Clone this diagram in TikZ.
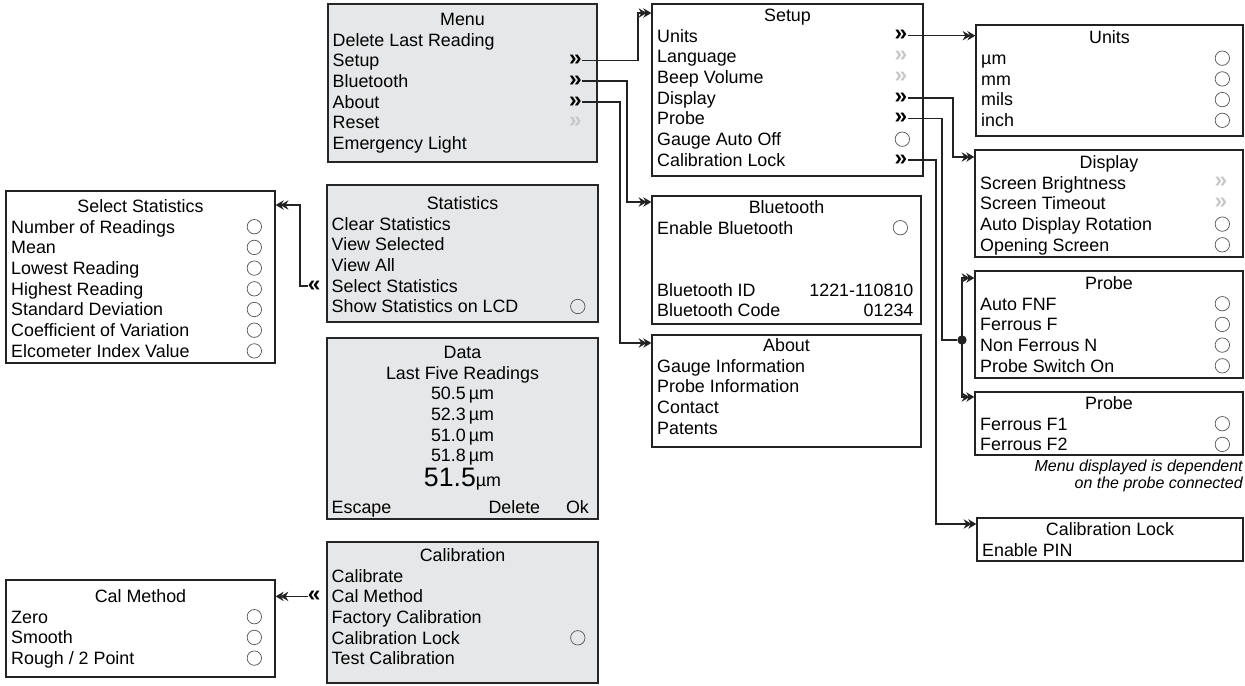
\documentclass[tikz,border=0pt]{standalone}
\usepackage{fontspec}
\setmainfont{Liberation Sans}
\usepackage{tikz}
\usetikzlibrary{arrows.meta,positioning,fit}

\definecolor{lcdfill}{HTML}{E6E7E8}
\definecolor{inkgray}{HTML}{222222}
\definecolor{fadegray}{HTML}{C8C8C8}

\newcommand{\rowfont}{\fontsize{13.4}{15.5}\selectfont}
\newcommand{\chevfont}{\fontsize{17}{17}\selectfont\bfseries}
\newcommand{\optcirclemark}{}
\newcommand{\moremark}{»}
\newcommand{\moredimmark}{»}
\newcommand{\nomarkmark}{}

% panel: [style]{name}{corner}{corner}{title y}{title}
\newcommand{\panel}[6][screen]{%
  \node[#1, fit={(#3) (#4)}] (#2) {};
  \node[rowtitle] (#2-0) at (#2.north |- 0,#5) {#6};
}
% rows under the title: {name}{title y}{text/mark,...}
\newcommand{\panelrows}[3]{%
  \foreach \txt/\mk [count=\i] in {#3} {%
    \pgfmathsetmacro{\rowy}{#2+20.7*\i}%
    \node[rowtext] (#1-\i) at (#1.west |- 0,\rowy) {\txt};
    \node[\mk] (#1-m\i) at (#1.east |- 0,\rowy) {\csname\mk mark\endcsname};
  }%
}

\begin{document}
\begin{tikzpicture}[x=0.75pt,y=-0.75pt,
  screen/.style={draw=inkgray, line width=1pt, fill=white, inner sep=0pt},
  lcd/.style={screen, fill=lcdfill, draw=black!85, line width=1.7pt},
  rowtitle/.style={inner sep=0pt, text height=9.5pt, text depth=0pt, font=\rowfont},
  rowtext/.style={rowtitle, anchor=west, xshift=4.2pt},
  optcircle/.style={circle, draw=black!65, line width=0.55pt, minimum size=10.8pt, inner sep=0pt, xshift=-16pt},
  more/.style={inner sep=0pt, font=\chevfont, text=black, xshift=-17pt},
  moredim/.style={more, text=fadegray},
  nomark/.style={inner sep=0pt, xshift=-16pt},
  back/.style={inner sep=0pt, font=\chevfont},
  wire/.style={draw=inkgray, line width=1.1pt},
  link/.style={wire, -{Stealth[length=6pt,width=7pt,sep=-2.5pt]Stealth[length=6pt,width=7pt]}},
  jct/.style={circle, fill=inkgray, inner sep=0pt, minimum size=7pt},
  note/.style={inner sep=0pt, align=right, font=\fontsize{12}{12.75}\selectfont\itshape}]
  \useasboundingbox (0,0) rectangle (1245,685);

  \panel[lcd]{menu}{328,4}{597,162}{19}{Menu}
  \panelrows{menu}{19}{Delete Last Reading/nomark, Setup/more, Bluetooth/more, About/more, Reset/moredim, Emergency Light/nomark}

  \panel[lcd]{stats}{327,185}{598,322}{203}{Statistics}
  \panelrows{stats}{203}{Clear Statistics/nomark, View Selected/nomark, View All/nomark, Select Statistics/nomark, Show Statistics on LCD/optcircle}

  \panel[lcd]{data}{327,338}{598,519}{352}{Data}
  \node[rowtitle] (data-1) at (data.north |- 0,372.7) {Last Five Readings};
  \foreach \val [count=\i from 2] in {50.5, 52.3, 51.0, 51.8} {
    \pgfmathsetmacro{\rowy}{352+20.7*\i}
    \node[rowtitle] (data-\i) at (data.north |- 0,\rowy) {\val\,µm};
  }
  \node[inner sep=0pt, anchor=base] (data-6) at (data.north |- 0,486) {\fontsize{20}{22}\selectfont 51.5\rowfont µm};
  \node[rowtext] (data-esc) at (data.west |- 0,507) {Escape};
  \node[rowtitle, anchor=east, xshift=-7.5pt] (data-ok) at (data.east |- 0,507) {Ok};
  \node[rowtitle, left=19pt of data-ok] (data-del) {Delete};

  \panel[lcd]{calib}{327,542}{598,683}{555}{Calibration}
  \panelrows{calib}{555}{Calibrate/nomark, Cal Method/nomark, Factory Calibration/nomark, Calibration Lock/optcircle, Test Calibration/nomark}

  \panel{selstat}{6,191}{275,363}{206}{Select Statistics}
  \panelrows{selstat}{206}{Number of Readings/optcircle, Mean/optcircle, Lowest Reading/optcircle, Highest Reading/optcircle, Standard Deviation/optcircle, Coefficient of Variation/optcircle, Elcometer Index Value/optcircle}

  \panel{calmeth}{6,580}{275,677}{596}{Cal Method}
  \panelrows{calmeth}{596}{Zero/optcircle, Smooth/optcircle, {Rough / 2 Point}/optcircle}

  \panel{setup}{652,4}{923,176}{15}{Setup}
  \panelrows{setup}{15}{Units/more, Language/moredim, Beep Volume/moredim, Display/more, Probe/more, Gauge Auto Off/optcircle, Calibration Lock/more}

  \panel{bluetooth}{652,196}{921,324}{207}{Bluetooth}
  \panelrows{bluetooth}{207}{Enable Bluetooth/optcircle, /nomark, /nomark, Bluetooth ID/nomark, Bluetooth Code/nomark}
  \node[rowtitle, anchor=east, xshift=-6pt] (bt-id) at (bluetooth.east |- 0,289.8) {1221-110810};
  \node[rowtitle, anchor=east, xshift=-6pt] (bt-code) at (bluetooth.east |- 0,310.5) {01234};

  \panel{about}{652,335}{921,447}{345}{About}
  \panelrows{about}{345}{Gauge Information/nomark, Probe Information/nomark, Contact/nomark, Patents/nomark}

  \panel{units}{976,25}{1243,136}{37.5}{Units}
  \panelrows{units}{37.5}{µm/optcircle, mm/optcircle, mils/optcircle, inch/optcircle}

  \panel{display}{975,150}{1243,257}{162}{Display}
  \panelrows{display}{162}{Screen Brightness/moredim, Screen Timeout/moredim, Auto Display Rotation/optcircle, Opening Screen/optcircle}

  \panel{probeA}{975,271}{1243,378}{283}{Probe}
  \panelrows{probeA}{283}{Auto FNF/optcircle, Ferrous F/optcircle, Non Ferrous N/optcircle, Probe Switch On/optcircle}

  \panel{probeB}{975,392}{1243,455}{403}{Probe}
  \panelrows{probeB}{403}{Ferrous F1/optcircle, Ferrous F2/optcircle}
  \node[note, anchor=north east] (note) at (1243,460) {Menu displayed is dependent\\on the probe connected};

  \panel{callock}{977,518}{1243,561}{529}{Calibration Lock}
  \panelrows{callock}{529}{Enable PIN/nomark}

  % connectors
  \draw[link] (menu-m2.east) -| (638,13) -- (setup.west |- 0,13);
  \draw[link] (menu-m3.east) -| (627,202) -- (bluetooth.west |- 0,202);
  \draw[link] (menu-m4.east) -| (620,343) -- (about.west |- 0,343);
  \draw[link] (setup-m1.east) -- (setup-m1.east -| units.west);
  \draw[link] (setup-m4.east) -| (953,157) -- (display.west |- 0,157);
  \node[jct] (jct) at (962,340) {};
  \draw[wire] (setup-m5.east) -| (942,340) -- (jct);
  \draw[link] (jct.center) |- (probeA.west |- 0,278);
  \draw[link] (jct.center) |- (probeB.west |- 0,397);
  \draw[link] (setup-m7.east) -| (936,524) -- (callock.west |- 0,524);

  \node[back, anchor=east] (stats-back) at ([xshift=-8pt]stats-4.west) {«};
  \draw[link] (stats-back.west) -| (300,205) -- (selstat.east |- 0,205);
  \node[back, anchor=east] (calib-back) at ([xshift=-8pt]calib-2.west) {«};
  \draw[link] (calib-back.west) -- (calib-back.west -| calmeth.east);
\end{tikzpicture}
\end{document}
